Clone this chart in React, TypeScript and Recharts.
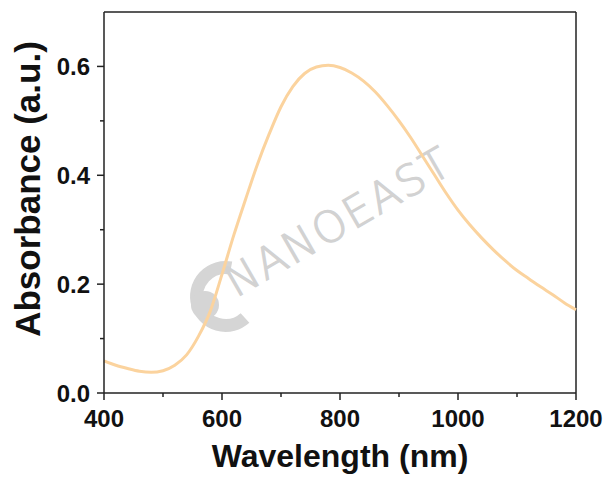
import { LineChart, Line, XAxis, YAxis, ReferenceLine } from "recharts";

// UV-Vis-NIR absorbance spectrum at 20 nm steps
const wavelength = [
  400, 420, 440, 460, 480, 500, 520, 540, 560, 580,
  600, 620, 640, 660, 680, 700, 720, 740, 760, 780,
  800, 820, 840, 860, 880, 900, 920, 940, 960, 980,
  1000, 1020, 1040, 1060, 1080, 1100, 1120, 1140, 1160, 1180, 1200,
];
const absorbance = [
  0.059, 0.051, 0.045, 0.040, 0.038, 0.041, 0.051, 0.070, 0.104, 0.150,
  0.218, 0.290, 0.356, 0.420, 0.476, 0.526, 0.563, 0.587, 0.599, 0.602,
  0.598, 0.588, 0.573, 0.553, 0.528, 0.500, 0.469, 0.435, 0.401, 0.367,
  0.336, 0.309, 0.285, 0.263, 0.243, 0.225, 0.210, 0.195, 0.181, 0.166, 0.153,
];

const xTicks = [400, 500, 600, 700, 800, 900, 1000, 1100, 1200];
const xLabels = [400, 600, 800, 1000, 1200];
const yTicks = [0, 0.1, 0.2, 0.3, 0.4, 0.5, 0.6];
const yLabels = [0, 0.2, 0.4, 0.6];

const data = wavelength.map((nm, i) => ({ nm, a: absorbance[i] }));

const AX = "#222";
const FONT = "'Liberation Sans', Arial, sans-serif";

function XTick({ x, y, payload }: any) {
  const major = xLabels.includes(payload.value);
  return (
    <g>
      <line x1={x} y1={y} x2={x} y2={y + (major ? 7 : 4)} stroke={AX} strokeWidth={1.5} />
      {major && (
        <text x={x} y={y + 34} textAnchor="middle" fontFamily={FONT} fontWeight="bold" fontSize={24} fill="#111">
          {payload.value}
        </text>
      )}
    </g>
  );
}

function YTick({ x, y, payload }: any) {
  const major = yLabels.includes(payload.value);
  return (
    <g>
      <line x1={x} y1={y} x2={x - (major ? 7 : 4)} y2={y} stroke={AX} strokeWidth={1.5} />
      {major && (
        <text x={x - 14} y={y + 9} textAnchor="end" fontFamily={FONT} fontWeight="bold" fontSize={24} fill="#111">
          {payload.value.toFixed(1)}
        </text>
      )}
    </g>
  );
}

function Watermark() {
  return (
    <svg width={606} height={478} style={{ position: "absolute", left: 0, top: 0 }}>
      <path d="M 231 268 A 29 29 0 1 0 245 318" fill="none" stroke="#d5d5d5" strokeWidth={13} />
      <circle cx={205} cy={305} r={14} fill="#d5d5d5" />
      <text
        x={236}
        y={298}
        transform="rotate(-30 236 298)"
        fontFamily="'DejaVu Sans', sans-serif"
        fontWeight={200}
        fontSize={43}
        letterSpacing={2}
        fill="#d2d2d2"
        stroke="#d2d2d2"
        strokeWidth={1.2}
      >
        NANOEAST
      </text>
    </svg>
  );
}

export default function App() {
  return (
    <div style={{ position: "absolute", left: 0, top: 0, width: 606, height: 478, background: "#fff" }}>
      <Watermark />
      <div style={{ position: "absolute", left: 0, top: 0 }}>
        <LineChart width={606} height={478} data={data} margin={{ top: 12, right: 30, bottom: 0, left: 0 }}>
          <XAxis
            dataKey="nm"
            type="number"
            domain={[400, 1200]}
            ticks={xTicks}
            interval={0}
            height={85}
            tickSize={0}
            tickMargin={0}
            tick={<XTick />}
            axisLine={{ stroke: AX, strokeWidth: 1.5 }}
            label={{
              content: (p: any) => (
                <text
                  x={p.viewBox.x + p.viewBox.width / 2}
                  y={p.viewBox.y + 74}
                  textAnchor="middle"
                  fontFamily={FONT}
                  fontWeight="bold"
                  fontSize={32}
                  fill="#111"
                >
                  Wavelength (nm)
                </text>
              ),
            }}
          />
          <YAxis
            type="number"
            domain={[0, 0.7]}
            ticks={yTicks}
            interval={0}
            width={104}
            tickSize={0}
            tickMargin={0}
            tick={<YTick />}
            axisLine={{ stroke: AX, strokeWidth: 1.5 }}
            label={{
              content: () => (
                <text
                  x={40}
                  y={189}
                  transform="rotate(-90 40 189)"
                  textAnchor="middle"
                  fontFamily={FONT}
                  fontWeight="bold"
                  fontSize={35}
                  fill="#111"
                >
                  Absorbance (a.u.)
                </text>
              ),
            }}
          />
          <ReferenceLine y={0.7} stroke={AX} strokeWidth={1.5} />
          <ReferenceLine x={1200} stroke={AX} strokeWidth={1.5} />
          <Line
            type="monotone"
            dataKey="a"
            stroke="#FBD39E"
            strokeWidth={3}
            dot={false}
            isAnimationActive={false}
          />
        </LineChart>
      </div>
    </div>
  );
}
